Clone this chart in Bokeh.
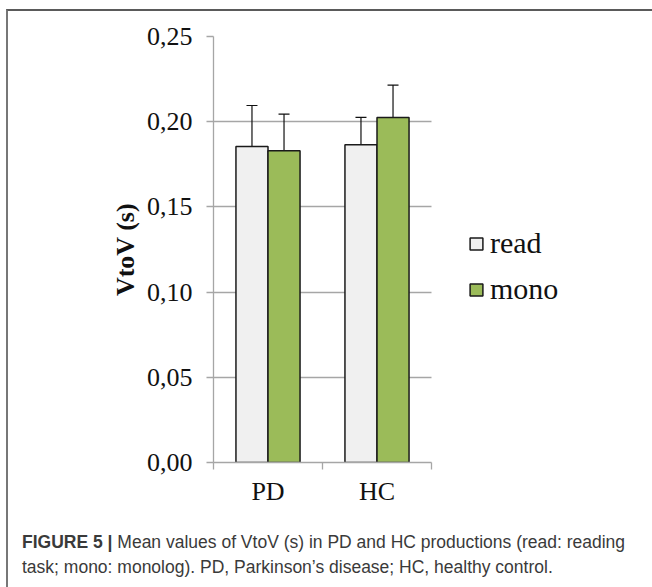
from bokeh.plotting import figure
from bokeh.models import (ColumnDataSource, Whisker, FixedTicker, CustomJSTickFormatter,
                          Legend, LegendItem, Range1d, Div)
from bokeh.layouts import column
from bokeh.embed import file_html
from bokeh.resources import INLINE
import numpy as np

# ---- data ----
groups = ["PD", "HC"]
read_mean = [0.1855, 0.1865]
read_lo = [0.1615, 0.1705]
read_hi = [0.2095, 0.2025]
mono_mean = [0.1830, 0.2025]
mono_lo = [0.1615, 0.1840]
mono_hi = [0.2045, 0.2215]
y_ticks = [0.0, 0.05, 0.10, 0.15, 0.20, 0.25]

# ---- geometry (window px) ----
OX, OY = 8, 11            # where the figure canvas starts (inside the outer border)
W, H = 644, 514
AX_L, AX_T, AX_B = 213, 36, 462
UNIT = 109.0               # px per category along x
FL, FT, FB = AX_L - OX, AX_T - OY, AX_B - OY
FR = W                     # frame runs to the canvas' right edge (legend sits inside it)
x_end = (FR - FL) / UNIT

SERIF = "Liberation Serif"
GRID = "#a6a6a6"

p = figure(width=W, height=H, output_backend="svg", toolbar_location=None,
           x_range=Range1d(0, x_end), y_range=Range1d(0, 0.25),
           min_border_left=FL, min_border_right=0,
           min_border_top=FT, min_border_bottom=H - FB)
p.outline_line_color = None
p.xgrid.grid_line_color = None
p.ygrid.ticker = FixedTicker(ticks=y_ticks)
try:
    p.ygrid.cross_bounds = (0, len(groups))
    p.ygrid.grid_line_color = GRID
    p.ygrid.grid_line_width = 1.3
except AttributeError:
    p.ygrid.grid_line_color = None
    p.segment(x0=0, x1=len(groups), y0=y_ticks, y1=y_ticks, line_color=GRID,
              line_width=1.3, level="underlay")

centers = np.arange(len(groups)) + 0.5
bw = 0.294
xr = centers - bw / 2
xm = centers + bw / 2

src = ColumnDataSource(dict(xr=xr, xm=xm, read=read_mean, mono=mono_mean,
                            rlo=read_lo, rhi=read_hi, mlo=mono_lo, mhi=mono_hi))

r1 = p.vbar(x="xr", top="read", width=bw, bottom=0, source=src,
            fill_color="#f0f0f0", line_color="#1a1a1a", line_width=1.5)
r2 = p.vbar(x="xm", top="mono", width=bw, bottom=0, source=src,
            fill_color="#9bbb59", line_color="#1a1a1a", line_width=1.5)

for x, lo, hi in (("xr", "rlo", "rhi"), ("xm", "mlo", "mhi")):
    w = Whisker(base=x, lower=lo, upper=hi, source=src, line_color="#111111",
                line_width=1.2)
    w.upper_head.size = 11
    w.lower_head.size = 11
    w.upper_head.line_color = "#111111"
    w.lower_head.line_color = "#111111"
    w.upper_head.line_width = 1.2
    w.lower_head.line_width = 1.2
    p.add_layout(w)

# y axis
ya = p.yaxis[0]
ya.ticker = FixedTicker(ticks=y_ticks)
ya.formatter = CustomJSTickFormatter(code="return tick.toFixed(2).replace('.', ',');")
ya.axis_line_color = GRID
ya.axis_line_width = 1.3
ya.major_tick_line_color = GRID
ya.major_tick_line_width = 1.3
ya.major_tick_in = 0
ya.major_tick_out = 7
ya.minor_tick_line_color = None
ya.major_label_text_font = SERIF
ya.major_label_text_font_size = "26px"
ya.major_label_text_color = "#111111"
ya.major_label_standoff = 14
ya.axis_label = "VtoV (s)"
ya.axis_label_text_font = SERIF
ya.axis_label_text_font_style = "bold"
ya.axis_label_text_font_size = "26px"
ya.axis_label_text_color = "#111111"
ya.axis_label_standoff = 4

# x axis
xa = p.xaxis[0]
xa.bounds = (0, len(groups))
xa.ticker = FixedTicker(ticks=list(centers), minor_ticks=[0, 1, 2])
xa.major_label_overrides = {float(c): g for c, g in zip(centers, groups)}
xa.axis_line_color = GRID
xa.axis_line_width = 1.3
xa.major_tick_line_color = None
xa.major_tick_in = 0
xa.major_tick_out = 8
xa.minor_tick_line_color = GRID
xa.minor_tick_line_width = 1.3
xa.minor_tick_in = 0
xa.minor_tick_out = 7
xa.major_label_text_font = SERIF
xa.major_label_text_font_size = "26px"
xa.major_label_text_color = "#111111"
xa.major_label_standoff = 6

# legend (inside the widened frame, to the right of the bars)
legend = Legend(items=[LegendItem(label="read", renderers=[r1]),
                       LegendItem(label="mono", renderers=[r2])],
                location=(468 - AX_L, AX_B - 307), orientation="vertical",
                border_line_color=None, background_fill_alpha=0,
                padding=0, margin=0, spacing=10,
                glyph_width=16, glyph_height=15, label_standoff=6,
                label_height=36,
                label_text_font=SERIF, label_text_font_size="30px",
                label_text_color="#111111")
p.add_layout(legend)

# caption
cap = Div(text=("<b>FIGURE 5 |</b> Mean values of VtoV (s) in PD and HC productions "
                "(read: reading<br>task; mono: monolog). PD, Parkinson\u2019s disease; "
                "HC, healthy control."),
          width=628, height=62,
          styles={"font-family": "'Liberation Sans', Arial, sans-serif",
                  "font-size": "17.5px", "line-height": "25px", "color": "#3a3a3a",
                  "margin-left": "14px", "white-space": "nowrap"})

layout = column(p, cap, spacing=0,
                styles={"border-left": "2px solid #777777",
                        "border-top": "2px solid #5a5a5a",
                        "margin-left": "6px", "margin-top": "9px"})

open("out.html", "w").write(file_html(layout, INLINE))
